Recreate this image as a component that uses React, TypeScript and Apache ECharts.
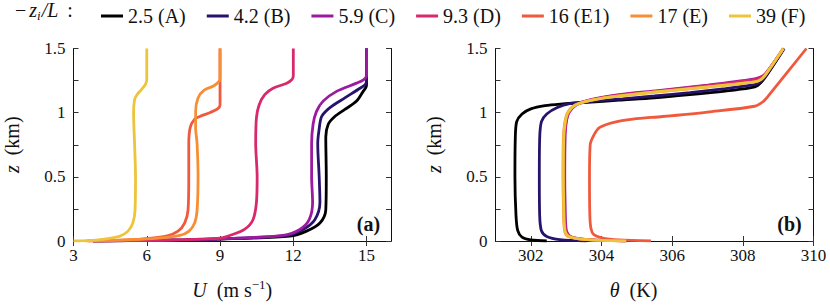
import React, { useEffect, useRef } from "react";
import * as echarts from "echarts";

const FONT = "'Liberation Serif', 'Times New Roman', Times, serif";

const legendNames = ["2.5 (A)", "4.2 (B)", "5.9 (C)", "9.3 (D)", "16 (E1)", "17 (E)", "39 (F)"];
const colors = ["#000000", "#28136c", "#9c1a9f", "#d7296b", "#f0593c", "#f88e33", "#eec43a"];

const uTicks = [3, 6, 9, 12, 15];
const thetaTicks = [302, 304, 306, 308, 310];
const zTicks = [0, 0.25, 0.5, 0.75, 1, 1.25, 1.5];
const zLabels = [0, 0.5, 1, 1.5];

// Panel (a): [U (m/s), z (km)]
const uA = [[3.8, 0], [5.2, 0.003], [7.6, 0.009], [9.8, 0.02], [11.86, 0.038], [12.54, 0.077], [13.09, 0.14], [13.33, 0.243], [13.35, 0.5], [13.33, 0.81], [13.43, 0.91], [13.7, 0.97], [14.11, 1.025], [14.59, 1.09], [14.86, 1.166], [14.98, 1.2], [15.0, 1.23], [15.0, 1.5]];
const uB = [[3.8, 0], [5.2, 0.003], [7.6, 0.009], [9.8, 0.022], [11.72, 0.043], [12.4, 0.09], [12.88, 0.166], [13.09, 0.3], [13.06, 0.5], [13.0, 0.76], [13.05, 0.86], [13.16, 0.97], [13.5, 1.04], [14.11, 1.115], [14.73, 1.19], [14.95, 1.22], [15.0, 1.25], [15.0, 1.5]];
const uC = [[3.8, 0], [5.2, 0.003], [7.6, 0.009], [9.8, 0.023], [11.58, 0.043], [12.27, 0.09], [12.65, 0.166], [12.79, 0.3], [12.75, 0.5], [12.75, 0.76], [12.81, 0.91], [12.95, 1.01], [13.22, 1.09], [13.77, 1.166], [14.59, 1.23], [14.9, 1.26], [15.0, 1.29], [15.0, 1.5]];
const uD = [[3.8, 0], [5.5, 0.003], [7.5, 0.01], [9.0, 0.022], [9.4, 0.043], [10.0, 0.09], [10.35, 0.166], [10.49, 0.3], [10.52, 0.5], [10.46, 0.76], [10.49, 0.96], [10.6, 1.06], [10.83, 1.14], [11.17, 1.19], [11.73, 1.23], [11.95, 1.26], [12.0, 1.29], [12.0, 1.5]];
const uE1 = [[3.6, 0], [4.6, 0.004], [5.6, 0.013], [6.8, 0.038], [7.28, 0.077], [7.55, 0.14], [7.69, 0.24], [7.72, 0.5], [7.72, 0.76], [7.78, 0.885], [7.96, 0.95], [8.17, 0.97], [8.58, 1.0], [8.9, 1.03], [9.0, 1.06], [9.0, 1.5]];
const uE = [[3.5, 0], [4.6, 0.005], [6.25, 0.018], [7.35, 0.043], [7.73, 0.077], [7.96, 0.14], [8.06, 0.24], [8.1, 0.5], [8.06, 0.76], [8.0, 0.88], [8.0, 1.01], [8.1, 1.115], [8.35, 1.175], [8.75, 1.21], [8.97, 1.245], [9.0, 1.27], [9.0, 1.5]];
const uF = [[3.0, 0], [3.6, 0.003], [4.2, 0.013], [4.9, 0.038], [5.23, 0.077], [5.43, 0.14], [5.52, 0.24], [5.54, 0.5], [5.5, 0.76], [5.46, 1.0], [5.5, 1.1], [5.6, 1.14], [5.78, 1.18], [5.93, 1.215], [5.99, 1.245], [6.0, 1.27], [6.0, 1.5]];

// Panel (b): [theta (K), z (km)]
const tA = [[302.45, 0], [302.0, 0.008], [301.75, 0.03], [301.63, 0.08], [301.58, 0.2], [301.55, 0.5], [301.56, 0.8], [301.6, 0.93], [301.75, 0.99], [302.0, 1.03], [302.4, 1.055], [302.9, 1.068], [303.6, 1.08], [304.5, 1.097], [305.5, 1.115], [306.5, 1.14], [307.5, 1.168], [308.2, 1.193], [308.42, 1.212], [308.62, 1.27], [309.17, 1.5]];
const tB = [[303.57, 0], [302.82, 0.01], [302.45, 0.035], [302.3, 0.08], [302.25, 0.2], [302.24, 0.5], [302.25, 0.8], [302.3, 0.93], [302.45, 0.99], [302.75, 1.04], [303.1, 1.07], [303.8, 1.09], [304.6, 1.108], [305.5, 1.13], [306.5, 1.157], [307.5, 1.187], [308.2, 1.212], [308.45, 1.23], [308.63, 1.28], [309.16, 1.5]];
const tC = [[304.7, 0], [303.65, 0.01], [303.12, 0.035], [303.0, 0.09], [302.97, 0.3], [302.96, 0.5], [302.97, 0.8], [303.0, 0.92], [303.08, 1.0], [303.28, 1.06], [303.7, 1.102], [304.5, 1.14], [305.6, 1.172], [307.0, 1.215], [308.3, 1.262], [308.52, 1.28], [308.66, 1.31], [309.15, 1.5]];
const tD = [[304.7, 0], [303.63, 0.01], [303.1, 0.035], [302.98, 0.09], [302.95, 0.3], [302.94, 0.5], [302.95, 0.8], [302.99, 0.92], [303.07, 1.0], [303.27, 1.06], [303.72, 1.1], [304.5, 1.136], [305.6, 1.168], [307.0, 1.21], [308.3, 1.255], [308.5, 1.272], [308.65, 1.305], [309.15, 1.5]];
const tE1 = [[305.4, 0], [304.5, 0.008], [304.0, 0.025], [303.78, 0.05], [303.7, 0.1], [303.67, 0.2], [303.66, 0.5], [303.68, 0.75], [303.8, 0.833], [303.95, 0.885], [304.32, 0.923], [304.89, 0.95], [305.73, 0.97], [307.0, 1.005], [308.33, 1.05], [308.57, 1.085], [308.75, 1.14], [309.8, 1.5]];
const tE = [[304.65, 0], [303.58, 0.01], [303.06, 0.035], [302.95, 0.09], [302.92, 0.3], [302.91, 0.5], [302.92, 0.8], [302.96, 0.92], [303.04, 1.0], [303.25, 1.06], [303.74, 1.098], [304.5, 1.13], [305.6, 1.162], [307.0, 1.2], [308.33, 1.24], [308.5, 1.257], [308.64, 1.295], [309.14, 1.5]];
const tF = [[304.7, 0], [303.6, 0.01], [303.08, 0.035], [302.96, 0.09], [302.93, 0.3], [302.92, 0.5], [302.93, 0.8], [302.97, 0.92], [303.05, 1.0], [303.26, 1.06], [303.76, 1.1], [304.5, 1.13], [305.6, 1.163], [307.0, 1.2], [308.33, 1.24], [308.5, 1.256], [308.64, 1.295], [309.15, 1.5]];

const panelA = [uA, uB, uC, uD, uE1, uE, uF];
const panelB = [tA, tB, tC, tD, tE1, tE, tF];

export default function App() {
  const ref = useRef<HTMLDivElement>(null);
  useEffect(() => {
    if (!ref.current) return;
    const chart = echarts.init(ref.current, null, { renderer: "svg" });
    const tickStyle = { show: true, inside: true, length: 5, lineStyle: { color: "#333", width: 1 } };
    const lineStyle = { show: true, lineStyle: { color: "#111", width: 1 } };
    const labelText = { fontFamily: FONT, fontSize: 17, color: "#111" };
    const nameRich = {
      i: { fontFamily: FONT, fontSize: 20, fontStyle: "italic", color: "#111", lineHeight: 24 },
      n: { fontFamily: FONT, fontSize: 20, color: "#111", lineHeight: 24 },
      sup: { fontFamily: FONT, fontSize: 13, color: "#111", lineHeight: 16, verticalAlign: "top" },
    };
    const xAxisMain = (gridIndex: number, min: number, max: number, ticks: number[], name: string, pad: number[]) => ({
      type: "value", gridIndex, min, max, position: "bottom",
      axisLine: lineStyle, splitLine: { show: false },
      axisTick: { ...tickStyle, customValues: ticks },
      axisLabel: { ...labelText, margin: 6, customValues: ticks },
      name, nameLocation: "middle", nameGap: 37,
      nameTextStyle: { ...labelText, fontSize: 20, rich: nameRich, padding: pad },
    });
    const xAxisTop = (gridIndex: number, min: number, max: number, ticks: number[]) => ({
      type: "value", gridIndex, min, max, position: "top",
      axisLine: lineStyle, splitLine: { show: false },
      axisTick: { ...tickStyle, customValues: ticks }, axisLabel: { show: false },
    });
    const yAxisMain = (gridIndex: number) => ({
      type: "value", gridIndex, min: 0, max: 1.5, position: "left",
      axisLine: lineStyle, splitLine: { show: false },
      axisTick: { ...tickStyle, customValues: zTicks },
      axisLabel: { ...labelText, margin: 8, customValues: zLabels, formatter: (v: number) => String(v) },
      name: "{i|z}  {n|(km)}", nameLocation: "middle", nameGap: 50,
      nameTextStyle: { ...labelText, fontSize: 20, rich: nameRich },
    });
    const yAxisRight = (gridIndex: number) => ({
      type: "value", gridIndex, min: 0, max: 1.5, position: "right",
      axisLine: lineStyle, splitLine: { show: false },
      axisTick: { ...tickStyle, customValues: zTicks }, axisLabel: { show: false },
    });

    const series: any[] = [];
    panelA.forEach((d, i) => series.push({
      type: "line", name: legendNames[i], xAxisIndex: 0, yAxisIndex: 0, data: d,
      symbol: "none", smooth: 0.3, lineStyle: { width: 2.8, color: colors[i] }, itemStyle: { color: colors[i] }, clip: true,
    }));
    panelB.forEach((d, i) => series.push({
      type: "line", name: legendNames[i], xAxisIndex: 2, yAxisIndex: 2, data: d,
      symbol: "none", smooth: 0.3, lineStyle: { width: 2.8, color: colors[i] }, itemStyle: { color: colors[i] }, clip: true,
    }));

    chart.setOption({
      animation: false,
      backgroundColor: "#fff",
      legend: {
        data: legendNames, left: 96, top: 1, icon: "rect", itemWidth: 22, itemHeight: 3, itemGap: 21,
        selectedMode: false,
        textStyle: { fontFamily: FONT, fontSize: 20, color: "#111" },
      },
      grid: [
        { left: 73.5, top: 48.5, width: 317.5, height: 195 },
        { left: 495.5, top: 48.5, width: 318, height: 195 },
      ],
      xAxis: [
        xAxisMain(0, 3, 16, uTicks, "{i|U}  {n|(m s}{sup|−1}{n|)}", [0, 0, 0, 0]),
        xAxisTop(0, 3, 16, uTicks),
        xAxisMain(1, 301, 310, thetaTicks, "{i|θ}  {n|(K)}", [0, 42, 0, 0]),
        xAxisTop(1, 301, 310, thetaTicks),
      ],
      yAxis: [yAxisMain(0), yAxisRight(0), yAxisMain(1), yAxisRight(1)],
      graphic: [
        {
          type: "text", left: 15, top: 0,
          style: {
            text: "{m|−}{i|z}{s|i}{i|/L}{c|:}",
            rich: {
              m: { fontFamily: FONT, fontSize: 20, fill: "#111", lineHeight: 24, padding: [0, 3, 0, 0] },
              c: { fontFamily: FONT, fontSize: 20, fill: "#111", lineHeight: 24, padding: [0, 0, 0, 9] },
              i: { fontFamily: FONT, fontSize: 20, fontStyle: "italic", fill: "#111", lineHeight: 24 },
              s: { fontFamily: FONT, fontSize: 13, fontStyle: "italic", fill: "#111", lineHeight: 12, verticalAlign: "bottom", padding: [0, 1, 0, 0] },
            },
          },
        },
        { type: "text", x: 368.5, y: 224, style: { text: "(a)", fontFamily: FONT, fontSize: 20, fontWeight: "bold", fill: "#111", align: "center", verticalAlign: "middle" } },
        { type: "text", x: 789.5, y: 224, style: { text: "(b)", fontFamily: FONT, fontSize: 20, fontWeight: "bold", fill: "#111", align: "center", verticalAlign: "middle" } },
      ],
      series,
    });
    return () => chart.dispose();
  }, []);
  return <div ref={ref} style={{ width: 830, height: 305, position: "absolute", left: 0, top: 0 }} />;
}
